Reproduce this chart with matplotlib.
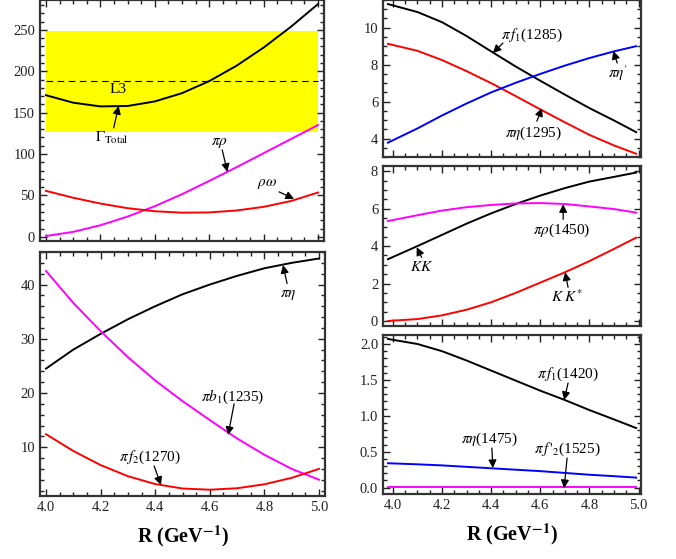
import matplotlib
matplotlib.use('Agg')
from matplotlib import pyplot as plt
from matplotlib.ticker import MultipleLocator

plt.rcParams['font.family'] = ['Liberation Serif', 'DejaVu Serif']
plt.rcParams['mathtext.fontset'] = 'stix'

# R grid (GeV^-1)
R = [4.0, 4.1, 4.2, 4.3, 4.4, 4.5, 4.6, 4.7, 4.8, 4.9, 5.0]
R_right = [3.98, 4.1, 4.2, 4.3, 4.4, 4.5, 4.6, 4.7, 4.8, 4.9, 4.99]

# left top panel (MeV)
total = [171, 162, 157.5, 158, 163.5, 173.5, 188, 206.5, 228.5, 253.5, 281]
pi_rho = [1, 6, 14, 24.5, 37, 51.5, 67.5, 84, 101, 118, 135]
rho_omega = [55.5, 47.2, 40.2, 34.6, 30.9, 29.2, 29.5, 31.8, 36.2, 43.2, 53.5]
l3_band = (127, 248)
l3_value = 188

# left bottom panel
pi_eta = [24.5, 28.0, 30.9, 33.6, 36.0, 38.2, 40.0, 41.6, 43.0, 44.0, 44.8]
pi_b1 = [42.5, 36.6, 31.4, 26.6, 22.3, 18.5, 15.0, 11.6, 8.6, 6.0, 4.0]
pi_f2 = [12.4, 9.3, 6.7, 4.65, 3.2, 2.38, 2.16, 2.43, 3.16, 4.35, 6.0]

# right top panel
pi_f1_1285 = [11.28, 10.85, 10.3, 9.55, 8.72, 7.9, 7.13, 6.38, 5.65, 4.98, 4.35]
pi_eta_1295 = [9.13, 8.75, 8.25, 7.65, 7.0, 6.3, 5.58, 4.88, 4.2, 3.63, 3.18]
pi_eta_prime = [3.78, 4.55, 5.25, 5.9, 6.5, 7.02, 7.5, 7.95, 8.36, 8.72, 9.0]

# right middle panel
kk = [3.3, 4.0, 4.6, 5.2, 5.75, 6.25, 6.7, 7.1, 7.45, 7.7, 7.93]
pi_rho_1450 = [5.34, 5.65, 5.9, 6.08, 6.2, 6.28, 6.3, 6.25, 6.12, 5.98, 5.79]
k_kstar = [0.0, 0.1, 0.3, 0.6, 1.0, 1.5, 2.05, 2.6, 3.2, 3.85, 4.45]

# right bottom panel
pi_f1_1420 = [2.07, 2.0, 1.9, 1.77, 1.63, 1.49, 1.35, 1.22, 1.08, 0.95, 0.83]
pi_eta_1475 = [0.34, 0.325, 0.31, 0.29, 0.27, 0.25, 0.23, 0.205, 0.18, 0.16, 0.14]
pi_f2p_1525 = [0.005] * 11

fig = plt.figure(figsize=(6.76, 5.59), dpi=100)

ax1 = fig.add_axes([0.0592, 0.5689, 0.420, 0.4311])
ax2 = fig.add_axes([0.0592, 0.1127, 0.4216, 0.4365])
ax3 = fig.add_axes([0.5666, 0.7190, 0.3817, 0.2810])
ax4 = fig.add_axes([0.5666, 0.4168, 0.3817, 0.2862])
ax5 = fig.add_axes([0.5666, 0.1163, 0.3817, 0.2844])

lw = 1.4


def style(ax, ymajor, yminor, xlabels):
    ax.xaxis.set_major_locator(MultipleLocator(0.2))
    ax.xaxis.set_minor_locator(MultipleLocator(0.05))
    ax.yaxis.set_major_locator(MultipleLocator(ymajor))
    ax.yaxis.set_minor_locator(MultipleLocator(yminor))
    ax.tick_params(which='both', direction='in', top=True, right=True,
                   colors='#222222', labelsize=10.5, width=1.0)
    ax.tick_params(which='major', length=5)
    ax.tick_params(which='minor', length=3)
    ax.xaxis.set_major_formatter(plt.FuncFormatter(lambda v, p: '%.1f' % v))
    if not xlabels:
        ax.tick_params(labelbottom=False)
    for s in ax.spines.values():
        s.set_linewidth(1.6)
        s.set_color('#333333')


def arrow(ax, start, tip):
    ax.annotate('', xy=tip, xytext=start,
                arrowprops=dict(arrowstyle='-|>', color='black', lw=0.9,
                                mutation_scale=12, shrinkA=0, shrinkB=0))


# ---- left top
ax1.fill_between(R, l3_band[0], l3_band[1], color='#ffff00', lw=0)
ax1.plot([R[0], R[-1]], [l3_value, l3_value], color='black', lw=0.8, dashes=(6, 4))
ax1.plot(R, total, color='black', lw=lw)
ax1.plot(R, pi_rho, color='#ff00ff', lw=lw)
ax1.plot(R, rho_omega, color='#ff0000', lw=lw)
ax1.set_xlim(3.978, 5.022)
ax1.set_ylim(-5, 286)
style(ax1, 50, 10, False)
ax1.text(4.264, 177.5, 'L3', ha='center', va='center', fontsize=11)
ax1.text(4.242, 119, r'$\Gamma_{\mathrm{Total}}$', ha='center', va='center', fontsize=11)
arrow(ax1, (4.249, 131.6), (4.267, 158))
ax1.text(4.637, 113.5, r'$\pi\rho$', ha='center', va='center', fontsize=11)
arrow(ax1, (4.648, 105), (4.667, 78.5))
ax1.text(4.813, 64, r'$\rho\omega$', ha='center', va='center', fontsize=11)
arrow(ax1, (4.857, 54.3), (4.912, 45.9))

# ---- left bottom
ax2.plot(R, pi_eta, color='black', lw=lw)
ax2.plot(R, pi_b1, color='#ff00ff', lw=lw)
ax2.plot(R, pi_f2, color='#ff0000', lw=lw)
ax2.set_xlim(3.978, 5.022)
ax2.set_ylim(1.0, 46.0)
style(ax2, 10, 2, True)
ax2.text(4.886, 38.0, r'$\pi\eta$', ha='center', va='center', fontsize=11)
arrow(ax2, (4.883, 40.2), (4.868, 43.6))
ax2.text(4.685, 19.2, r'$\pi b_1$(1235)', ha='center', va='center', fontsize=11)
arrow(ax2, (4.689, 18.0), (4.667, 12.25))
ax2.text(4.381, 8.2, r'$\pi\, f_2$(1270)', ha='center', va='center', fontsize=11)
arrow(ax2, (4.396, 6.54), (4.421, 3.04))
ax2.set_xlabel(r'R (GeV$^{\mathbf{-1}}$)', fontsize=14.5, fontweight='bold', labelpad=7)

# ---- right top
ax3.plot(R_right, pi_f1_1285, color='black', lw=lw)
ax3.plot(R_right, pi_eta_1295, color='#ff0000', lw=lw)
ax3.plot(R_right, pi_eta_prime, color='#0000ff', lw=lw)
ax3.set_xlim(3.96, 5.01)
ax3.set_ylim(3.0, 11.5)
style(ax3, 2, 0.5, False)
ax3.text(4.566, 9.6, r'$\pi\, f_1$(1285)', ha='center', va='center', fontsize=11)
arrow(ax3, (4.448, 9.17), (4.407, 8.63))
ax3.text(4.917, 7.55, r"$\pi\eta'$", ha='center', va='center', fontsize=11)
arrow(ax3, (4.913, 8.09), (4.897, 8.74))
ax3.text(4.574, 4.29, r'$\pi\eta$(1295)', ha='center', va='center', fontsize=11)
arrow(ax3, (4.586, 4.94), (4.607, 5.65))

# ---- right middle
ax4.plot(R_right, kk, color='black', lw=lw)
ax4.plot(R_right, pi_rho_1450, color='#ff00ff', lw=lw)
ax4.plot(R_right, k_kstar, color='#ff0000', lw=lw)
ax4.set_xlim(3.96, 5.01)
ax4.set_ylim(-0.27, 8.28)
style(ax4, 2, 0.5, False)
ax4.text(4.689, 4.84, r'$\pi\rho$(1450)', ha='center', va='center', fontsize=11)
arrow(ax4, (4.693, 5.43), (4.693, 6.24))
ax4.text(4.117, 2.87, r'$KK$', ha='center', va='center', fontsize=11)
arrow(ax4, (4.117, 3.40), (4.097, 3.94))
ax4.text(4.709, 1.32, r'$K\ K^{*}$', ha='center', va='center', fontsize=11)
arrow(ax4, (4.713, 1.80), (4.701, 2.60))

# ---- right bottom
ax5.plot(R_right, pi_f1_1420, color='black', lw=lw)
ax5.plot(R_right, pi_eta_1475, color='#0000ff', lw=lw)
ax5.plot(R_right, pi_f2p_1525, color='#ff00ff', lw=lw)
ax5.set_xlim(3.96, 5.01)
ax5.set_ylim(-0.088, 2.125)
style(ax5, 0.5, 0.1, True)
ax5.text(4.713, 1.58, r'$\pi\, f_1$(1420)', ha='center', va='center', fontsize=11)
arrow(ax5, (4.713, 1.457), (4.697, 1.22))
ax5.text(4.395, 0.677, r'$\pi\eta$(1475)', ha='center', va='center', fontsize=11)
arrow(ax5, (4.403, 0.551), (4.407, 0.273))
ax5.text(4.709, 0.53, r"$\pi\, f\,'_2$(1525)", ha='center', va='center', fontsize=11)
arrow(ax5, (4.709, 0.412), (4.697, -0.006))
ax5.set_xlabel(r'R (GeV$^{\mathbf{-1}}$)', fontsize=14.5, fontweight='bold', labelpad=7)

plt.savefig('out.png', dpi=100)
